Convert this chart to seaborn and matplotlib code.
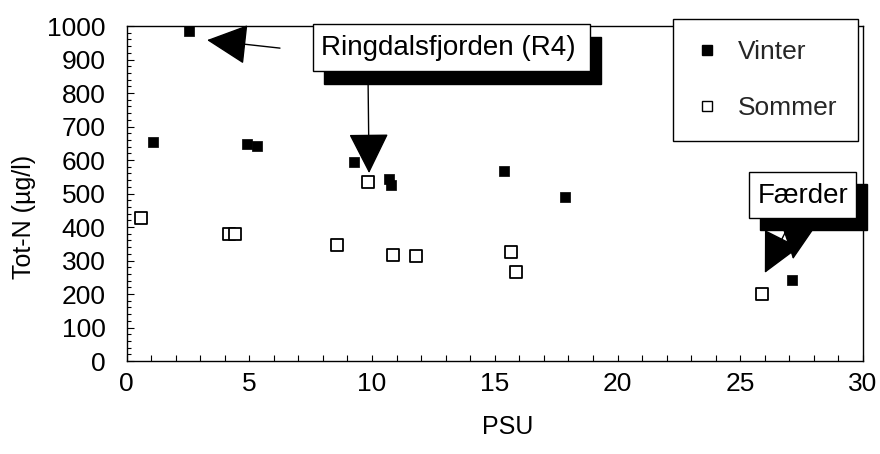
import seaborn as sns
import matplotlib.pyplot as plt
import matplotlib.patches as mpatches
from matplotlib.lines import Line2D
from matplotlib.ticker import MultipleLocator
import pandas as pd

sns.set_theme(style='white')
plt.rcParams['font.family'] = ['Liberation Sans', 'DejaVu Sans']

# Tot-N vs salinity
vinter_psu = [1.07, 2.55, 4.9, 5.3, 9.28, 10.68, 10.79, 15.36, 17.87, 27.1]
vinter_totn = [655, 985, 648, 643, 593, 543, 524, 566, 489, 242]
sommer_psu = [0.59, 4.19, 4.42, 8.56, 9.85, 10.86, 11.78, 15.65, 15.87, 25.89]
sommer_totn = [428, 378, 378, 345, 535, 317, 314, 325, 265, 200]

df = pd.DataFrame({
    'psu': vinter_psu + sommer_psu,
    'totn': vinter_totn + sommer_totn,
    'season': ['Vinter'] * len(vinter_psu) + ['Sommer'] * len(sommer_psu),
})

fig = plt.figure(figsize=(8.8, 4.54), dpi=100)
ax = fig.add_axes([0.1438, 0.2048, 0.8369, 0.7379])

sns.scatterplot(data=df[df['season'] == 'Vinter'], x='psu', y='totn', ax=ax,
                marker='s', s=58, color='black', edgecolor='black',
                linewidth=0.5, zorder=3)
sns.scatterplot(data=df[df['season'] == 'Sommer'], x='psu', y='totn', ax=ax,
                marker='s', s=75, facecolor='white', edgecolor='black',
                linewidth=1.3, zorder=3)

ax.set_xlim(0, 30)
ax.set_ylim(0, 1000)
ax.xaxis.set_major_locator(MultipleLocator(5))
ax.xaxis.set_minor_locator(MultipleLocator(1))
ax.yaxis.set_major_locator(MultipleLocator(100))
ax.yaxis.set_minor_locator(MultipleLocator(20))
ax.tick_params(axis='both', which='both', direction='in', colors='black',
               bottom=True, left=True, top=False, right=False)
ax.tick_params(axis='x', which='major', length=4, width=0.8, pad=8, labelsize=19)
ax.tick_params(axis='x', which='minor', length=4, width=0.8)
ax.tick_params(axis='y', which='major', length=5, width=0.8, pad=15, labelsize=19)
ax.tick_params(axis='y', which='minor', length=3, width=0.8)
for sp in ax.spines.values():
    sp.set_color('black')
    sp.set_linewidth(1.0)

ax.set_xlabel('PSU', fontsize=18, color='black')
ax.set_ylabel('Tot-N (µg/l)', fontsize=18, color='black')
ax.xaxis.set_label_coords(0.518, -0.16)
ax.yaxis.set_label_coords(-0.123, 0.43)

# text boxes with drop shadows
def shadow_box(x0, x1, y0, y1, dx, dy, label, tx, ty):
    ax.add_patch(mpatches.Rectangle((x0 + dx, y0 - dy), x1 - x0, y1 - y0,
                                    facecolor='black', edgecolor='black',
                                    clip_on=False, zorder=5))
    ax.add_patch(mpatches.Rectangle((x0, y0), x1 - x0, y1 - y0,
                                    facecolor='white', edgecolor='black',
                                    linewidth=1.0, clip_on=False, zorder=6))
    ax.text(tx, ty, label, fontsize=20, ha='center', va='center',
            color='black', zorder=7)

shadow_box(7.61, 18.89, 866, 1006, 0.42, 39, 'Ringdalsfjorden (R4)', 13.12, 934)
shadow_box(25.36, 29.72, 427, 564, 0.46, 36, 'Færder', 27.54, 494)

arrow = dict(arrowstyle='-|>,head_length=1.3,head_width=0.65',
             color='black', lw=1.0, shrinkA=0, shrinkB=0, mutation_scale=20)
ax.annotate('', xy=(3.28, 958), xytext=(6.25, 934), arrowprops=arrow,
            annotation_clip=False, zorder=4)
ax.annotate('', xy=(9.88, 561), xytext=(9.84, 827), arrowprops=arrow, zorder=4)
ax.annotate('', xy=(27.15, 304), xytext=(27.31, 388), arrowprops=arrow, zorder=4)
ax.annotate('', xy=(26.0, 263), xytext=(26.86, 388), arrowprops=arrow, zorder=4)

handles = [
    Line2D([], [], marker='s', linestyle='none', markersize=7.5,
           markerfacecolor='black', markeredgecolor='black'),
    Line2D([], [], marker='s', linestyle='none', markersize=7.5,
           markerfacecolor='white', markeredgecolor='black', markeredgewidth=1.0),
]
leg = ax.legend(handles, ['Vinter', 'Sommer'], loc='upper right',
                bbox_to_anchor=(0.9932, 1.0209), borderaxespad=0,
                fontsize=19, handlelength=1.0, handletextpad=0.65,
                labelspacing=1.2, borderpad=0.8, fancybox=False,
                framealpha=1, edgecolor='black')
leg.get_frame().set_linewidth(1.0)
leg.set_zorder(8)

fig.savefig('out.png', dpi=100)
